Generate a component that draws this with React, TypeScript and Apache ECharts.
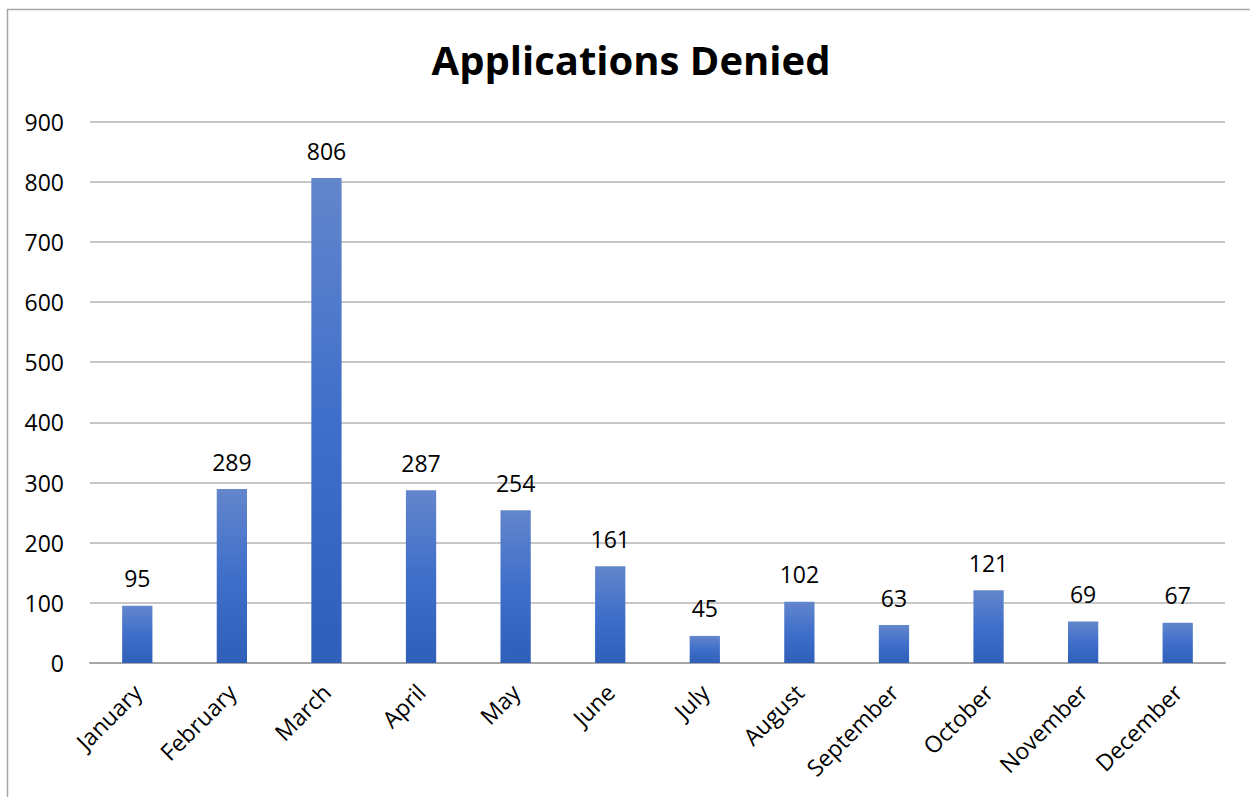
import React, { useEffect, useRef } from "react";
import * as echarts from "echarts";

const months = ["January", "February", "March", "April", "May", "June", "July", "August", "September", "October", "November", "December"];
const denied = [95, 289, 806, 287, 254, 161, 45, 102, 63, 121, 69, 67];
const yTicks = { min: 0, max: 900, interval: 100 };
const titleText = "Applications Denied";

export default function App() {
  const ref = useRef<HTMLDivElement>(null);
  useEffect(() => {
    if (!ref.current) return;
    const chart = echarts.init(ref.current, null, { renderer: "svg" });
    const font = "'Open Sans', 'Noto Sans', sans-serif";
    chart.setOption({
      animation: false,
      backgroundColor: "#ffffff",
      title: {
        text: titleText,
        left: 626,
        textAlign: "center",
        top: 34,
        textStyle: { fontFamily: font, fontWeight: "bold", fontSize: 40, color: "#000000" },
      },
      graphic: [
        {
          type: "rect",
          shape: { x: 7.5, y: 9.5, width: 1260, height: 800 },
          style: { fill: "none", stroke: "#a6a6a6", lineWidth: 1.5 },
          silent: true,
        },
      ],
      grid: { left: 90, right: 25, top: 121.5, bottom: 134, containLabel: false },
      xAxis: {
        type: "category",
        data: months,
        axisLine: { lineStyle: { color: "#a6a6a6", width: 2 } },
        axisTick: { show: false },
        axisLabel: {
          rotate: 45,
          interval: 0,
          margin: 25,
          fontFamily: font,
          fontSize: 23,
          color: "#000000",
        },
      },
      yAxis: {
        type: "value",
        min: yTicks.min,
        max: yTicks.max,
        interval: yTicks.interval,
        axisLine: { show: false },
        axisTick: { show: false },
        splitLine: { lineStyle: { color: "#b4b4b4", width: 1.5 } },
        axisLabel: { margin: 26, fontFamily: font, fontSize: 23, color: "#000000" },
      },
      series: [
        {
          type: "bar",
          data: denied,
          barWidth: "32%",
          itemStyle: {
            color: new echarts.graphic.LinearGradient(0, 0, 0, 1, [
              { offset: 0, color: "#6386cc" },
              { offset: 0.5, color: "#3f6fca" },
              { offset: 1, color: "#2f5fb8" },
            ]),
          },
          label: {
            show: true,
            position: "top",
            distance: 16,
            fontFamily: font,
            fontSize: 23,
            color: "#000000",
          },
        },
      ],
    });
    return () => chart.dispose();
  }, []);
  return (
    <div
      ref={ref}
      style={{ position: "fixed", left: 0, top: 0, width: 1250, height: 797, background: "#fff" }}
    />
  );
}
